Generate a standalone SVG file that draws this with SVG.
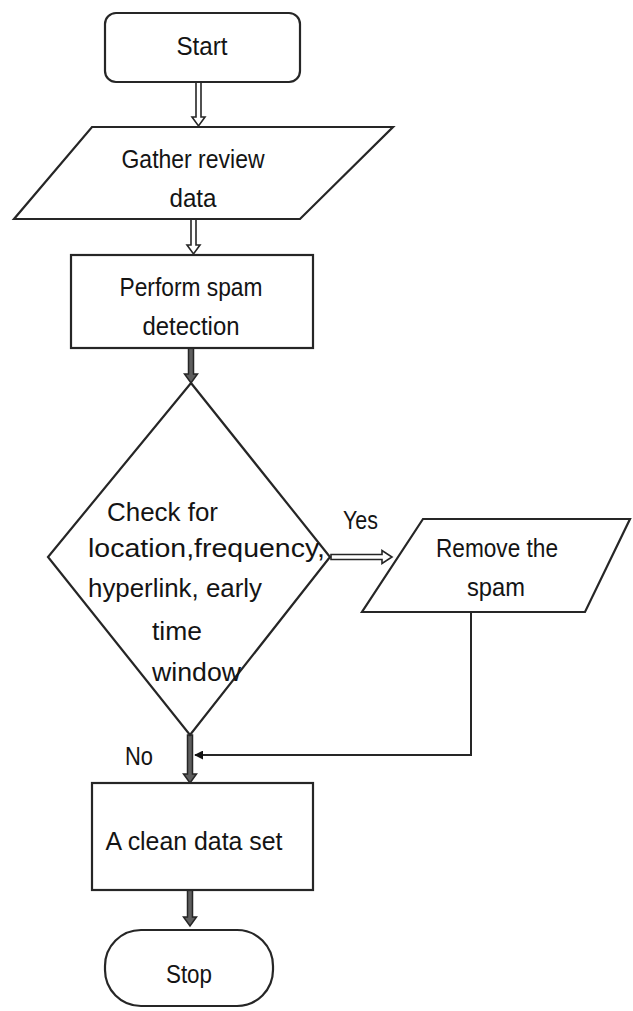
<svg xmlns="http://www.w3.org/2000/svg" width="633" height="1011" viewBox="0 0 633 1011">
  <defs>
    <style>
      .shape { fill: #fff; stroke: #262626; stroke-width: 2.2; }
      .label { font-family: "Liberation Sans", Arial, sans-serif; font-size: 25px; fill: #141414; text-anchor: middle; }
      .lbl-left { font-family: "Liberation Sans", Arial, sans-serif; font-size: 25px; fill: #141414; }
      .hollow { fill: #fff; stroke: #262626; stroke-width: 1.6; stroke-linejoin: miter; }
      .solid { fill: #5e5e5e; stroke: #262626; stroke-width: 1.5; }
      .wire { fill: none; stroke: #262626; stroke-width: 2; }
    </style>
    <marker id="tri" viewBox="0 0 10 10" refX="9" refY="5" markerWidth="9" markerHeight="9" markerUnits="userSpaceOnUse" orient="auto">
      <path d="M0,0 L10,5 L0,10 z" fill="#111"/>
    </marker>
  </defs>
  <rect width="633" height="1011" fill="#fff"/>

  <!-- connectors -->
  <g id="connectors">
    <!-- Start -> Gather -->
    <path class="hollow" d="M196,82 L201,82 L201,117 L205,117 L198.5,126 L192,117 L196,117 Z"/>
    <!-- Gather -> Perform -->
    <path class="hollow" d="M191,219 L196,219 L196,245 L200,245 L193.5,254 L187,245 L191,245 Z"/>
    <!-- Perform -> Decision -->
    <path class="solid" d="M188.5,348 L193.5,348 L193.5,374 L197.5,374 L191,383 L184.5,374 L188.5,374 Z"/>
    <!-- Decision -> Remove (Yes) -->
    <path class="hollow" d="M331,554.5 L382,554.5 L382,550.5 L392,557 L382,563.5 L382,559.5 L331,559.5 Z"/>
    <!-- Decision -> Clean (No) -->
    <path class="solid" d="M187.5,735 L192.5,735 L192.5,774 L196.5,774 L190,783 L183.5,774 L187.5,774 Z"/>
    <!-- Remove -> merge line -->
    <path class="wire" d="M471,612 L471,755 L195,755" marker-end="url(#tri)"/>
    <!-- Clean -> Stop -->
    <path class="solid" d="M187.5,890 L192.5,890 L192.5,917 L196.5,917 L190,926 L183.5,917 L187.5,917 Z"/>
    <text class="lbl-left" x="343" y="529" textLength="35" lengthAdjust="spacingAndGlyphs">Yes</text>
    <text class="lbl-left" x="125" y="765" textLength="28" lengthAdjust="spacingAndGlyphs">No</text>
  </g>

  <g id="start">
    <rect class="shape" x="105" y="13" width="195" height="69" rx="11"/>
    <text class="label" x="202" y="55" textLength="51" lengthAdjust="spacingAndGlyphs">Start</text>
  </g>

  <g id="gather">
    <polygon class="shape" points="92,127 393,127 300,219 14,219"/>
    <text class="label" x="193" y="168" textLength="143" lengthAdjust="spacingAndGlyphs">Gather review</text>
    <text class="label" x="193" y="207" textLength="47" lengthAdjust="spacingAndGlyphs">data</text>
  </g>

  <g id="perform">
    <rect class="shape" x="71" y="255" width="242" height="93"/>
    <text class="label" x="191" y="296" textLength="143" lengthAdjust="spacingAndGlyphs">Perform spam</text>
    <text class="label" x="191" y="335" textLength="97" lengthAdjust="spacingAndGlyphs">detection</text>
  </g>

  <g id="decision">
    <polygon class="shape" points="191,383 330,557 190,735 48,557"/>
    <text class="lbl-left" x="107" y="521" textLength="111" lengthAdjust="spacingAndGlyphs">Check for</text>
    <text class="lbl-left" x="88" y="557" textLength="237" lengthAdjust="spacingAndGlyphs">location,frequency,</text>
    <text class="lbl-left" x="88" y="597" textLength="174" lengthAdjust="spacingAndGlyphs">hyperlink, early</text>
    <text class="lbl-left" x="152" y="640" textLength="50" lengthAdjust="spacingAndGlyphs">time</text>
    <text class="lbl-left" x="152" y="681" textLength="89" lengthAdjust="spacingAndGlyphs">window</text>
  </g>

  <g id="remove">
    <polygon class="shape" points="423,519 630,519 585,612 362,612"/>
    <text class="label" x="497" y="557" textLength="122" lengthAdjust="spacingAndGlyphs">Remove the</text>
    <text class="label" x="496" y="596" textLength="58" lengthAdjust="spacingAndGlyphs">spam</text>
  </g>

  <g id="clean">
    <rect class="shape" x="92" y="783" width="221" height="107"/>
    <text class="label" x="194" y="850" textLength="177" lengthAdjust="spacingAndGlyphs">A clean data set</text>
  </g>

  <g id="stop">
    <rect class="shape" x="105" y="930" width="168" height="76" rx="36"/>
    <text class="label" x="189" y="983" textLength="46" lengthAdjust="spacingAndGlyphs">Stop</text>
  </g>
</svg>
